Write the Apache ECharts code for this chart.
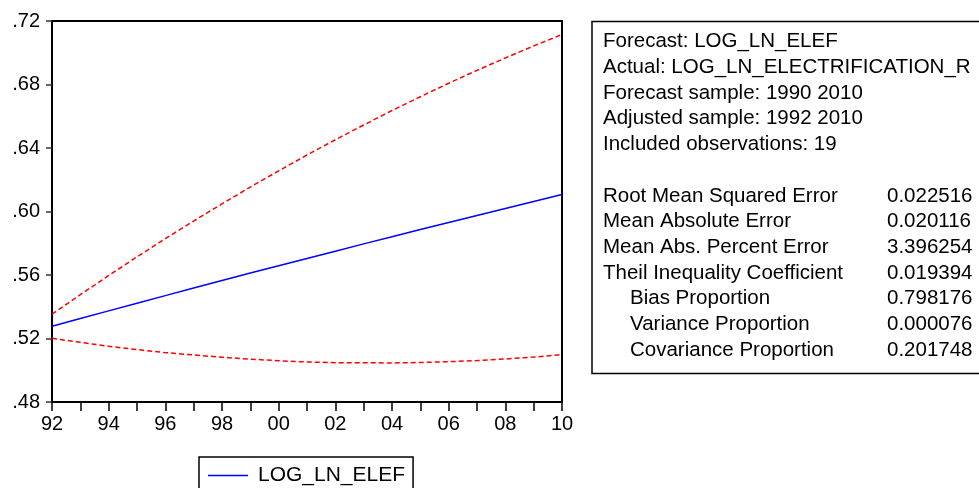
<!DOCTYPE html>
<html>
<head>
<meta charset="utf-8">
<script src="https://cdn.jsdelivr.net/npm/echarts@6/dist/echarts.min.js"></script>
<style>html,body{margin:0;padding:0;background:#fff;}#c{width:979px;height:488px;}</style>
</head>
<body>
<div id="c"></div>
<script>
var years = [1992,1993,1994,1995,1996,1997,1998,1999,2000,2001,2002,2003,2004,2005,2006,2007,2008,2009,2010];
var forecast = [0.5277,0.5326,0.5374,0.5422,0.5470,0.5518,0.5565,0.5612,0.5658,0.5704,0.5750,0.5796,0.5841,0.5886,0.5931,0.5975,0.6019,0.6063,0.6107];
var upperBand = [0.5353,0.5476,0.5597,0.5714,0.5829,0.5940,0.6048,0.6154,0.6256,0.6356,0.6452,0.6545,0.6636,0.6723,0.6808,0.6889,0.6967,0.7043,0.7115];
var lowerBand = [0.5201,0.5176,0.5151,0.5130,0.5111,0.5096,0.5082,0.5070,0.5060,0.5052,0.5048,0.5047,0.5046,0.5049,0.5054,0.5061,0.5071,0.5083,0.5099];
var yTicks = [0.48, 0.52, 0.56, 0.60, 0.64, 0.68, 0.72];
var infoLines = ["Forecast: LOG_LN_ELEF","Actual: LOG_LN_ELECTRIFICATION_R","Forecast sample: 1990 2010","Adjusted sample: 1992 2010","Included observations: 19"];
var statNames = ["Root Mean Squared Error","Mean Absolute Error","Mean Abs. Percent Error","Theil Inequality Coefficient","Bias Proportion","Variance Proportion","Covariance Proportion"];
var statIndent = [0,0,0,0,1,1,1];
var statValues = ["0.022516","0.020116","3.396254","0.019394","0.798176","0.000076","0.201748"];

function pairs(vals){ return years.map(function(y,i){ return [y, vals[i]]; }); }

var FONT = "'Liberation Sans', Arial, sans-serif";
var chart = echarts.init(document.getElementById('c'), null, {renderer:'canvas'});

var graphics = [];
graphics.push({type:'rect', shape:{x:592, y:21.5, width:420, height:352}, style:{fill:'#fff', stroke:'#000', lineWidth:1.5}, z:10});
var lineH = 25.7, y0 = 41.7;
infoLines.forEach(function(t,i){
  graphics.push({type:'text', x:603, y:y0 + i*lineH, z:11, style:{text:t, font:"20.5px " + FONT, fill:'#000', textVerticalAlign:'middle'}});
});
statNames.forEach(function(t,i){
  var yy = y0 + (i+6)*lineH;
  graphics.push({type:'text', x: statIndent[i] ? 630 : 603, y:yy, z:11, style:{text:t, font:"20.5px " + FONT, fill:'#000', textVerticalAlign:'middle'}});
  graphics.push({type:'text', x:887, y:yy, z:11, style:{text:statValues[i], font:"20.5px " + FONT, fill:'#000', textVerticalAlign:'middle'}});
});

chart.setOption({
  animation:false,
  backgroundColor:'#fff',
  grid:{left:52, right:417, top:21, bottom:86, show:true, borderColor:'#000', borderWidth:2, containLabel:false},
  xAxis:{
    type:'value', min:1992, max:2010, interval:2,
    axisLine:{show:true, onZero:false, lineStyle:{color:'#000', width:2}},
    axisTick:{show:true, inside:false, length:9, lineStyle:{color:'#000', width:1.5}},
    minorTick:{show:true, splitNumber:2, length:9, lineStyle:{color:'#000', width:1.5}},
    splitLine:{show:false},
    axisLabel:{margin:12, fontFamily:FONT, fontSize:20, color:'#000', formatter:function(v){ return String(v).slice(2); }}
  },
  yAxis:{
    type:'value', min:yTicks[0], max:yTicks[yTicks.length-1], interval:0.04,
    axisLine:{show:true, onZero:false, lineStyle:{color:'#000', width:2}},
    axisTick:{show:true, inside:false, length:6, lineStyle:{color:'#333', width:1.5}},
    splitLine:{show:false},
    axisLabel:{margin:12, fontFamily:FONT, fontSize:20, color:'#000', formatter:function(v){ return v.toFixed(2).replace(/^0/, ''); }}
  },
  legend:{
    data:[{name:'LOG_LN_ELEF', icon:'rect'}],
    left:199, top:457, padding:[8,8,8,9],
    borderColor:'#000', borderWidth:1.5, backgroundColor:'#fff',
    itemWidth:40, itemHeight:1.5,
    textStyle:{fontFamily:FONT, fontSize:21, color:'#000', padding:[0,0,0,5]}
  },
  series:[
    {name:'upper', type:'line', data:pairs(upperBand), showSymbol:false, symbol:'none', lineStyle:{color:'#ff0000', width:1.5, type:[5,3]}, itemStyle:{color:'#ff0000'}, z:3},
    {name:'lower', type:'line', data:pairs(lowerBand), showSymbol:false, symbol:'none', lineStyle:{color:'#ff0000', width:1.5, type:[5,3]}, itemStyle:{color:'#ff0000'}, z:3},
    {name:'LOG_LN_ELEF', type:'line', data:pairs(forecast), showSymbol:false, symbol:'none', lineStyle:{color:'#0000ff', width:1.5}, itemStyle:{color:'#0000ff'}, z:4}
  ],
  graphic:graphics
});
</script>
</body>
</html>
